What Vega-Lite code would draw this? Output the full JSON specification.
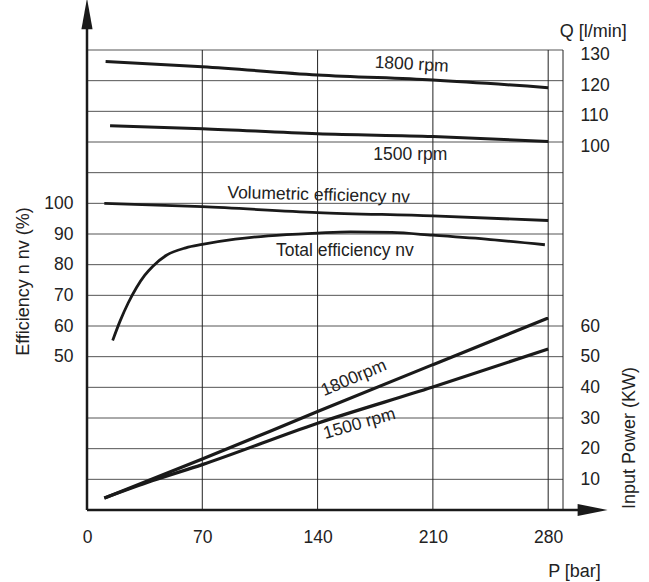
{
  "$schema": "https://vega.github.io/schema/vega-lite/v6.json",
  "width": 476,
  "height": 460,
  "autosize": "none",
  "padding": {"left": 87, "top": 50, "right": 86, "bottom": 72},
  "background": "white",
  "config": {
    "view": {"stroke": null},
    "font": "Liberation Sans",
    "axis": {
      "labelFont": "Liberation Sans",
      "titleFont": "Liberation Sans",
      "labelFontSize": 17.5,
      "titleFontSize": 18,
      "labelColor": "#222",
      "titleColor": "#222",
      "titleFontWeight": "normal",
      "grid": false,
      "domain": false,
      "ticks": false,
      "tickSize": 0,
      "labelFlush": false,
      "labelOverlap": false
    },
    "text": {"font": "Liberation Sans", "fontSize": 17.5, "fill": "#222", "baseline": "alphabetic", "align": "center"}
  },
  "datasets": {
    "hgrid": [{"v": 10}, {"v": 20}, {"v": 30}, {"v": 40}, {"v": 50}, {"v": 60}, {"v": 70}, {"v": 80}, {"v": 90}, {"v": 100}, {"v": 110}, {"v": 120}, {"v": 130}, {"v": 140}, {"v": 150}],
    "vgrid": [{"p": 70}, {"p": 140}, {"p": 210}, {"p": 280}, {"p": 289}],
    "efficiency": [
      {"series": "Volumetric", "p": 10.5, "v": 100},
      {"series": "Volumetric", "p": 70, "v": 98.9},
      {"series": "Volumetric", "p": 140, "v": 97.0},
      {"series": "Volumetric", "p": 210, "v": 95.9},
      {"series": "Volumetric", "p": 280, "v": 94.4},
      {"series": "Total", "p": 15.6, "v": 55.3},
      {"series": "Total", "p": 20, "v": 61.5},
      {"series": "Total", "p": 25, "v": 67.5},
      {"series": "Total", "p": 30, "v": 72.5},
      {"series": "Total", "p": 35, "v": 76.5},
      {"series": "Total", "p": 40, "v": 79.5},
      {"series": "Total", "p": 48, "v": 83.0},
      {"series": "Total", "p": 60, "v": 85.5},
      {"series": "Total", "p": 70, "v": 86.6},
      {"series": "Total", "p": 90, "v": 88.3},
      {"series": "Total", "p": 110, "v": 89.4},
      {"series": "Total", "p": 140, "v": 90.3},
      {"series": "Total", "p": 160, "v": 90.7},
      {"series": "Total", "p": 185, "v": 90.5},
      {"series": "Total", "p": 210, "v": 89.6},
      {"series": "Total", "p": 245, "v": 88.2},
      {"series": "Total", "p": 278, "v": 86.5}
    ],
    "power": [
      {"series": "1800rpm", "p": 10.5, "v": 3.9},
      {"series": "1800rpm", "p": 70, "v": 16.6},
      {"series": "1800rpm", "p": 140, "v": 32.1},
      {"series": "1800rpm", "p": 210, "v": 47.4},
      {"series": "1800rpm", "p": 280, "v": 62.6},
      {"series": "1500rpm", "p": 10.5, "v": 3.9},
      {"series": "1500rpm", "p": 40, "v": 9.6},
      {"series": "1500rpm", "p": 70, "v": 14.8},
      {"series": "1500rpm", "p": 140, "v": 28.3},
      {"series": "1500rpm", "p": 210, "v": 40.1},
      {"series": "1500rpm", "p": 280, "v": 52.5}
    ],
    "flow": [
      {"series": "1800rpm", "p": 11.3, "q": 127.8},
      {"series": "1800rpm", "p": 70, "q": 126.1},
      {"series": "1800rpm", "p": 140, "q": 123.4},
      {"series": "1800rpm", "p": 210, "q": 121.7},
      {"series": "1800rpm", "p": 280, "q": 119.2},
      {"series": "1500rpm", "p": 14, "q": 106.7},
      {"series": "1500rpm", "p": 70, "q": 105.7},
      {"series": "1500rpm", "p": 140, "q": 104.0},
      {"series": "1500rpm", "p": 210, "q": 103.1},
      {"series": "1500rpm", "p": 280, "q": 101.5}
    ],
    "labels": [
      {"label": "Volumetric efficiency nv", "p": 140.5, "v": 101},
      {"label": "Total efficiency nv", "p": 156.6, "v": 82.7},
      {"label": "1800rpm", "p": 163.2, "v": 41.5},
      {"label": "1500 rpm", "p": 166.3, "v": 26.5}
    ],
    "flowLabels": [
      {"label": "1800 rpm", "p": 196.9, "q": 125.1},
      {"label": "1500 rpm", "p": 196.3, "q": 95.4}
    ]
  },
  "layer": [
    {
      "data": {"name": "hgrid"},
      "mark": {"type": "rule", "stroke": "#555", "strokeWidth": 1},
      "encoding": {
        "y": {"field": "v", "type": "quantitative", "scale": {"domain": [0, 150], "nice": false, "zero": false}, "axis": null}
      }
    },
    {
      "data": {"name": "vgrid"},
      "mark": {"type": "rule", "stroke": "#222", "strokeWidth": 1},
      "encoding": {
        "x": {"field": "p", "type": "quantitative", "scale": {"domain": [0, 289], "nice": false, "zero": false},
              "axis": {"values": [0, 70, 140, 210, 280], "title": "P [bar]", "titleX": 487, "titleY": 66, "titleAlign": "center", "titleBaseline": "alphabetic", "labelPadding": 18, "labelFlush": false}}
      }
    },
    {
      "data": {"name": "efficiency"},
      "mark": {"type": "line", "interpolate": "monotone", "stroke": "#1a1a1a", "strokeWidth": 2.8},
      "encoding": {
        "x": {"field": "p", "type": "quantitative", "scale": {"domain": [0, 289], "nice": false, "zero": false}},
        "y": {"field": "v", "type": "quantitative", "scale": {"domain": [0, 150], "nice": false, "zero": false},
              "axis": {"orient": "left", "values": [50, 60, 70, 80, 90, 100], "title": "Efficiency n nv (%)", "titleX": -59, "titleY": 231, "titleAngle": -90, "titleAlign": "center", "titleBaseline": "alphabetic", "labelPadding": 14}},
        "detail": {"field": "series"}
      }
    },
    {
      "data": {"name": "power"},
      "mark": {"type": "line", "interpolate": "monotone", "stroke": "#1a1a1a", "strokeWidth": 3.2},
      "encoding": {
        "x": {"field": "p", "type": "quantitative", "scale": {"domain": [0, 289], "nice": false, "zero": false}},
        "y": {"field": "v", "type": "quantitative", "scale": {"domain": [0, 150], "nice": false, "zero": false},
              "axis": {"orient": "right", "values": [10, 20, 30, 40, 50, 60], "title": "Input Power (KW)", "titleX": 71, "titleY": 387.5, "titleAngle": -90, "titleAlign": "center", "titleBaseline": "alphabetic", "labelPadding": 17}},
        "detail": {"field": "series"}
      }
    },
    {
      "data": {"name": "flow"},
      "mark": {"type": "line", "interpolate": "monotone", "stroke": "#1a1a1a", "strokeWidth": 3},
      "encoding": {
        "x": {"field": "p", "type": "quantitative", "scale": {"domain": [0, 289], "nice": false, "zero": false}},
        "y": {"field": "q", "type": "quantitative", "scale": {"domain": [-19.8, 131.6], "nice": false, "zero": false},
              "axis": {"orient": "right", "values": [100, 110, 120, 130], "title": "Q [l/min]", "titleX": 29.8, "titleY": -14, "titleAngle": 0, "titleAlign": "center", "titleBaseline": "alphabetic", "labelPadding": 17}},
        "detail": {"field": "series"}
      }
    },
    {
      "data": {"name": "labels"},
      "transform": [{"filter": "datum.label == 'Volumetric efficiency nv'"}],
      "mark": {"type": "text", "angle": 1.5},
      "encoding": {
        "x": {"field": "p", "type": "quantitative", "scale": {"domain": [0, 289], "nice": false, "zero": false}},
        "y": {"field": "v", "type": "quantitative", "scale": {"domain": [0, 150], "nice": false, "zero": false}, "axis": null},
        "text": {"field": "label"}
      }
    },
    {
      "data": {"name": "labels"},
      "transform": [{"filter": "datum.label == 'Total efficiency nv'"}],
      "mark": {"type": "text", "angle": 0},
      "encoding": {
        "x": {"field": "p", "type": "quantitative", "scale": {"domain": [0, 289], "nice": false, "zero": false}},
        "y": {"field": "v", "type": "quantitative", "scale": {"domain": [0, 150], "nice": false, "zero": false}, "axis": null},
        "text": {"field": "label"}
      }
    },
    {
      "data": {"name": "labels"},
      "transform": [{"filter": "datum.label == '1800rpm'"}],
      "mark": {"type": "text", "angle": -23},
      "encoding": {
        "x": {"field": "p", "type": "quantitative", "scale": {"domain": [0, 289], "nice": false, "zero": false}},
        "y": {"field": "v", "type": "quantitative", "scale": {"domain": [0, 150], "nice": false, "zero": false}, "axis": null},
        "text": {"field": "label"}
      }
    },
    {
      "data": {"name": "labels"},
      "transform": [{"filter": "datum.label == '1500 rpm'"}],
      "mark": {"type": "text", "angle": -16},
      "encoding": {
        "x": {"field": "p", "type": "quantitative", "scale": {"domain": [0, 289], "nice": false, "zero": false}},
        "y": {"field": "v", "type": "quantitative", "scale": {"domain": [0, 150], "nice": false, "zero": false}, "axis": null},
        "text": {"field": "label"}
      }
    },
    {
      "data": {"name": "flowLabels"},
      "transform": [{"filter": "datum.label == '1800 rpm'"}],
      "mark": {"type": "text", "angle": 3},
      "encoding": {
        "x": {"field": "p", "type": "quantitative", "scale": {"domain": [0, 289], "nice": false, "zero": false}},
        "y": {"field": "q", "type": "quantitative", "scale": {"domain": [-19.8, 131.6], "nice": false, "zero": false}, "axis": null},
        "text": {"field": "label"}
      }
    },
    {
      "data": {"name": "flowLabels"},
      "transform": [{"filter": "datum.label == '1500 rpm'"}],
      "mark": {"type": "text", "angle": 0},
      "encoding": {
        "x": {"field": "p", "type": "quantitative", "scale": {"domain": [0, 289], "nice": false, "zero": false}},
        "y": {"field": "q", "type": "quantitative", "scale": {"domain": [-19.8, 131.6], "nice": false, "zero": false}, "axis": null},
        "text": {"field": "label"}
      }
    },
    {
      "data": {"values": [{}]},
      "mark": {"type": "rule", "stroke": "#1a1a1a", "strokeWidth": 2.5},
      "encoding": {
        "x": {"datum": 0, "type": "quantitative", "scale": {"domain": [0, 289], "nice": false, "zero": false}},
        "y": {"datum": 0, "type": "quantitative", "scale": {"domain": [0, 150], "nice": false, "zero": false}, "axis": null},
        "y2": {"datum": 160}
      }
    },
    {
      "data": {"values": [{}]},
      "mark": {"type": "rule", "stroke": "#1a1a1a", "strokeWidth": 2.5},
      "encoding": {
        "x": {"datum": 0, "type": "quantitative", "scale": {"domain": [0, 289], "nice": false, "zero": false}},
        "x2": {"datum": 302},
        "y": {"datum": 0, "type": "quantitative", "scale": {"domain": [0, 150], "nice": false, "zero": false}, "axis": null}
      }
    },
    {
      "data": {"values": [{}]},
      "mark": {"type": "point", "filled": true, "fill": "#1a1a1a", "strokeWidth": 0, "opacity": 1, "shape": "M0,-1L0.36,1L-0.36,1Z", "size": 961},
      "encoding": {
        "x": {"datum": 0, "type": "quantitative", "scale": {"domain": [0, 289], "nice": false, "zero": false}},
        "y": {"datum": 161.8, "type": "quantitative", "scale": {"domain": [0, 150], "nice": false, "zero": false}, "axis": null}
      }
    },
    {
      "data": {"values": [{}]},
      "mark": {"type": "point", "filled": true, "fill": "#1a1a1a", "strokeWidth": 0, "opacity": 1, "shape": "M1,0L-1,0.4L-1,-0.4Z", "size": 900},
      "encoding": {
        "x": {"datum": 307, "type": "quantitative", "scale": {"domain": [0, 289], "nice": false, "zero": false}},
        "y": {"datum": 0, "type": "quantitative", "scale": {"domain": [0, 150], "nice": false, "zero": false}, "axis": null}
      }
    }
  ],
  "resolve": {"scale": {"y": "independent"}}
}
